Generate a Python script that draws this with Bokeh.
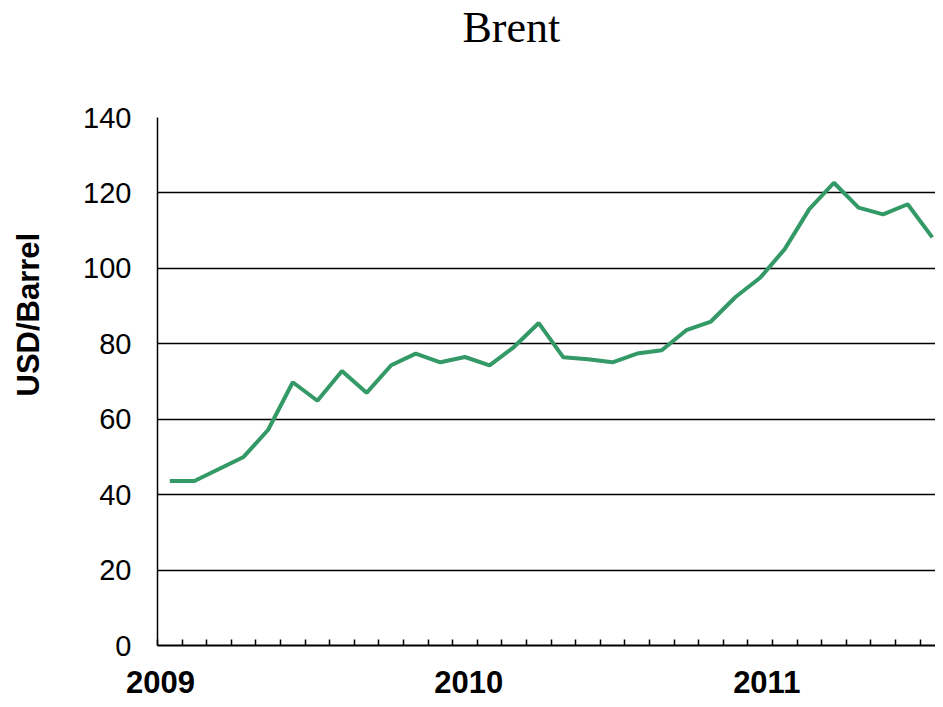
from bokeh.plotting import figure
from bokeh.models import Range1d, FixedTicker, Title
from bokeh.embed import file_html
from bokeh.resources import INLINE

# ---- data (monthly Brent, Jan 2009 .. Aug 2011) ----
month_index = list(range(32))
brent_usd = [43.6, 43.6, 46.8, 50.0, 57.2, 69.8, 64.9, 72.8, 67.0, 74.3, 77.4, 75.1,
             76.5, 74.3, 79.2, 85.5, 76.4, 75.9, 75.1, 77.4, 78.3, 83.6, 85.9, 92.4,
             97.5, 105.1, 115.7, 122.7, 116.1, 114.3, 117.0, 108.2]
year_labels = ["2009", "2010", "2011"]
year_label_pos = [-0.38, 12.15, 24.27]
y_ticks = [0, 20, 40, 60, 80, 100, 120, 140]
month_boundaries = [i - 0.5 for i in range(33)]

p = figure(width=935, height=699, output_backend="svg", toolbar_location=None,
           title=None,
           x_range=Range1d(-0.5, 31.13), y_range=Range1d(0, 140),
           min_border_left=157, min_border_right=0, min_border_top=116,
           min_border_bottom=54, background_fill_color="white",
           border_fill_color="white", outline_line_color=None)

p.line(month_index, brent_usd, line_color="#339966", line_width=4)

# blank spacer nearest the frame, then the visible title
p.add_layout(Title(text="\u00a0", text_color="white", text_font_size="20px", standoff=42), "above")
p.add_layout(Title(text="Brent", align="left", offset=305, standoff=0,
                   text_font="Liberation Serif", text_font_size="44px",
                   text_font_style="normal", text_color="black"), "above")

# y axis
p.yaxis.ticker = FixedTicker(ticks=y_ticks)
p.yaxis.major_tick_in = 0
p.yaxis.major_tick_out = 0
p.yaxis.minor_tick_line_color = None
p.yaxis.axis_line_color = "black"
p.yaxis.axis_line_width = 1.5
p.yaxis.major_label_standoff = 26
p.yaxis.major_label_text_font = "Liberation Sans"
p.yaxis.major_label_text_font_size = "29px"
p.yaxis.major_label_text_color = "black"

# blank spacer nearest the axis, then the y axis title
p.add_layout(Title(text="\u00a0", text_color="white", text_font_size="20px", standoff=11), "left")
p.add_layout(Title(text="USD/Barrel", align="left", offset=249, standoff=0,
                   text_font="Liberation Sans", text_font_size="31px",
                   text_font_style="bold", text_color="black"), "left")

# x axis
p.xaxis.ticker = FixedTicker(ticks=year_label_pos, minor_ticks=month_boundaries)
p.xaxis.major_label_overrides = {pos: lab for pos, lab in zip(year_label_pos, year_labels)}
p.xaxis.major_tick_line_color = None
p.xaxis.minor_tick_in = 6
p.xaxis.minor_tick_out = 0
p.xaxis.minor_tick_line_color = "black"
p.xaxis.minor_tick_line_width = 1.5
p.xaxis.axis_line_color = "black"
p.xaxis.axis_line_width = 2
p.xaxis.major_label_standoff = 19
p.xaxis.major_label_text_font = "Liberation Sans"
p.xaxis.major_label_text_font_size = "31px"
p.xaxis.major_label_text_font_style = "bold"
p.xaxis.major_label_text_color = "black"

# grid
p.xgrid.visible = False
p.ygrid.ticker = FixedTicker(ticks=y_ticks)
p.ygrid.grid_line_color = "black"
p.ygrid.grid_line_width = 1.3

open("out.html", "w").write(file_html(p, INLINE))
